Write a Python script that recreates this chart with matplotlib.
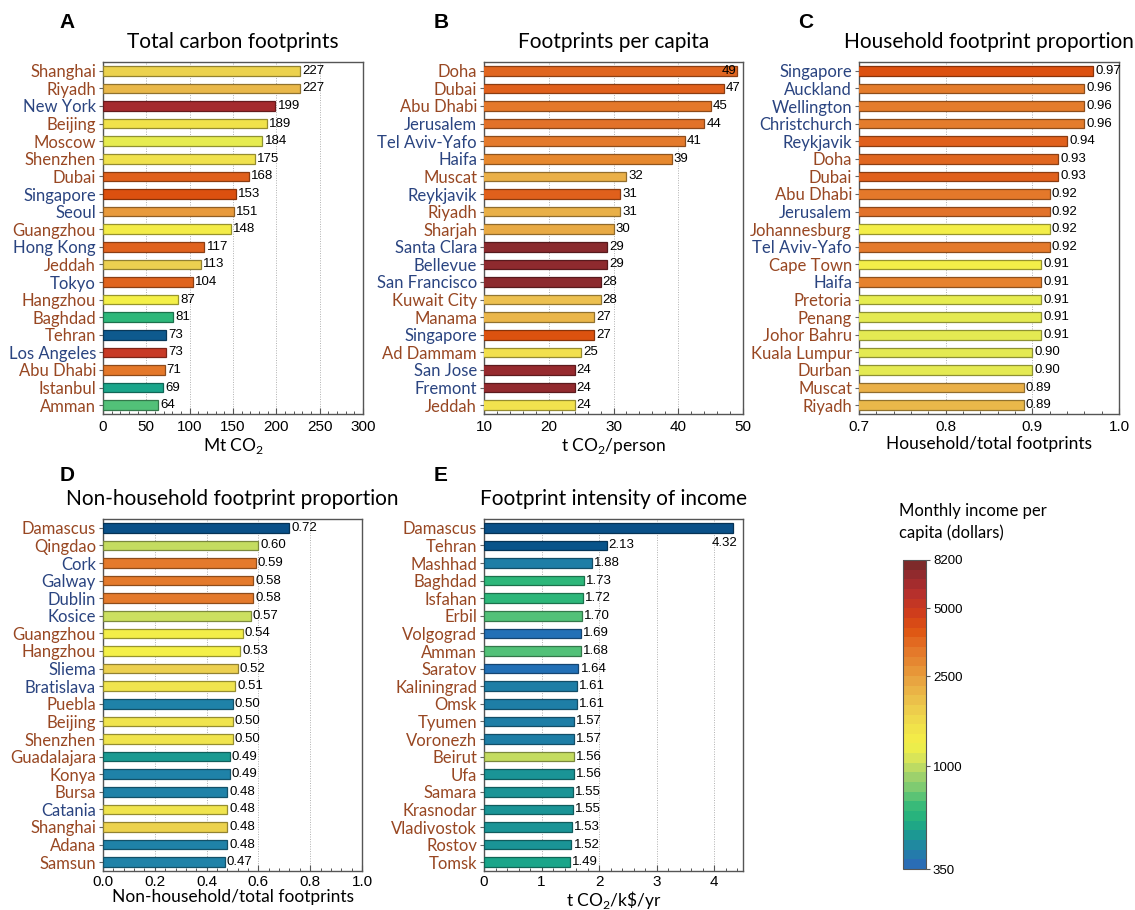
import numpy as np
import matplotlib
matplotlib.use("Agg")
import matplotlib.pyplot as plt
from matplotlib.colors import LinearSegmentedColormap, LogNorm, to_rgb
from matplotlib.ticker import MultipleLocator
import matplotlib.cm as cm

plt.rcParams['mathtext.fontset'] = 'custom'
plt.rcParams['mathtext.rm'] = 'Lato'

# ---------------- data ----------------
a_cities = ["Shanghai", "Riyadh", "New York", "Beijing", "Moscow", "Shenzhen", "Dubai",
            "Singapore", "Seoul", "Guangzhou", "Hong Kong", "Jeddah", "Tokyo", "Hangzhou",
            "Baghdad", "Tehran", "Los Angeles", "Abu Dhabi", "Istanbul", "Amman"]
a_values = [227, 227, 199, 189, 184, 175, 168, 153, 151, 148, 117, 113, 104, 87, 81, 73, 73, 71, 69, 64]
a_colors = ["#ecd24e", "#e9b84a", "#a52b2e", "#f0e24a", "#e6ec50", "#f0e24e", "#e0601c",
            "#dc500f", "#e89a3c", "#f3ec48", "#e0621e", "#ecd050", "#e0641e", "#f4f048",
            "#2db77a", "#0e5a8e", "#c83a26", "#e4782a", "#1aa58a", "#52c178"]

b_cities = ["Doha", "Dubai", "Abu Dhabi", "Jerusalem", "Tel Aviv-Yafo", "Haifa", "Muscat",
            "Reykjavik", "Riyadh", "Sharjah", "Santa Clara", "Bellevue", "San Francisco",
            "Kuwait City", "Manama", "Singapore", "Ad Dammam", "San Jose", "Fremont", "Jeddah"]
b_values = [49, 47, 45, 44, 41, 39, 32, 31, 31, 30, 29, 29, 28, 28, 27, 27, 25, 24, 24, 24]
b_colors = ["#e06620", "#e0601c", "#e4782a", "#e2722a", "#e47a2c", "#e6882e", "#eab048",
            "#e0601c", "#e9b048", "#e8aa44", "#8a2a2e", "#8e2a2e", "#8c2a2e", "#ecc050",
            "#eab64a", "#dc520f", "#f2e04e", "#962a2e", "#922a2e", "#f2e24e"]

c_cities = ["Singapore", "Auckland", "Wellington", "Christchurch", "Reykjavik", "Doha", "Dubai",
            "Abu Dhabi", "Jerusalem", "Johannesburg", "Tel Aviv-Yafo", "Cape Town", "Haifa",
            "Pretoria", "Penang", "Johor Bahru", "Kuala Lumpur", "Durban", "Muscat", "Riyadh"]
c_values = [0.97, 0.96, 0.96, 0.96, 0.94, 0.93, 0.93, 0.92, 0.92, 0.92, 0.92, 0.91, 0.91,
            0.91, 0.91, 0.91, 0.90, 0.90, 0.89, 0.89]
c_colors = ["#dc500f", "#e47c2c", "#e47c2c", "#e47c2c", "#e0601c", "#e06620", "#e0601c",
            "#e4782a", "#e2722a", "#f3ee48", "#e47a2c", "#f3ee48", "#e6822e", "#e6ec50",
            "#e4ea52", "#e4ea52", "#e4ea52", "#e4ea52", "#eab048", "#e9b84a"]

d_cities = ["Damascus", "Qingdao", "Cork", "Galway", "Dublin", "Kosice", "Guangzhou", "Hangzhou",
            "Sliema", "Bratislava", "Puebla", "Beijing", "Shenzhen", "Guadalajara", "Konya",
            "Bursa", "Catania", "Shanghai", "Adana", "Samsun"]
d_values = [0.72, 0.60, 0.59, 0.58, 0.58, 0.57, 0.54, 0.53, 0.52, 0.51, 0.50, 0.50, 0.50,
            0.49, 0.49, 0.48, 0.48, 0.48, 0.48, 0.47]
d_colors = ["#0a5088", "#c4dc60", "#e47a2c", "#e47a2c", "#e47a2c", "#cce060", "#f3ee48",
            "#f4f048", "#ecd050", "#f0e44e", "#1f82a8", "#f0e44e", "#f0e44e", "#1a9a92",
            "#1f82a8", "#1f82a8", "#f0e44e", "#ecd24e", "#1f82a8", "#1f82a8"]

e_cities = ["Damascus", "Tehran", "Mashhad", "Baghdad", "Isfahan", "Erbil", "Volgograd", "Amman",
            "Saratov", "Kaliningrad", "Omsk", "Tyumen", "Voronezh", "Beirut", "Ufa", "Samara",
            "Krasnodar", "Vladivostok", "Rostov", "Tomsk"]
e_values = [4.32, 2.13, 1.88, 1.73, 1.72, 1.70, 1.69, 1.68, 1.64, 1.61, 1.61, 1.57, 1.57,
            1.56, 1.56, 1.55, 1.55, 1.53, 1.52, 1.49]
e_colors = ["#0a5088", "#08548a", "#1e7ea6", "#2db77a", "#2db77a", "#52c178", "#2270b6",
            "#52c178", "#2270b6", "#1e7ea6", "#1e7ea6", "#1e7ea6", "#1e7ea6", "#c4dc60",
            "#1a9496", "#1a9496", "#1a9496", "#1a9496", "#1a9496", "#1aa58a"]

developed = {"Singapore", "New York", "Seoul", "Hong Kong", "Tokyo", "Los Angeles",
             "Jerusalem", "Tel Aviv-Yafo", "Haifa", "Reykjavik", "Santa Clara", "Bellevue",
             "San Francisco", "San Jose", "Fremont", "Auckland", "Wellington", "Christchurch",
             "Cork", "Galway", "Dublin", "Kosice", "Sliema", "Bratislava", "Catania"}

cbar_ticks = [350, 1000, 2500, 5000, 8200]
cbar_anchor_colors = ["#2a6db5", "#2182a6", "#1c9a92", "#22b07e", "#3cbc78", "#78c972",
                      "#a6d36a", "#d6e45a", "#f4f046", "#f0de4c", "#ecc84c", "#e9ab44",
                      "#e68f34", "#e37428", "#df5512", "#cf3c1c", "#b8302c", "#9c2a2e", "#7e2a2a"]
cbar_anchor_pos = [0.0, 0.05, 0.10, 0.15, 0.20, 0.25, 0.30, 0.35, 0.40, 0.47, 0.53, 0.60,
                   0.66, 0.72, 0.78, 0.84, 0.90, 0.95, 1.0]

# ---------------- style ----------------
W, H = 1135, 910
LABEL_FONT = "Lato"
NUM_FONT = "Liberation Sans"
BROWN = "#984722"
BLUE = "#2a4480"

fig = plt.figure(figsize=(W / 100, H / 100), dpi=100)


def rect(l, t, r, b):
    return [l / W, 1 - b / H, (r - l) / W, (b - t) / H]


def darker(c, f=0.62):
    r, g, b = to_rgb(c)
    return (r * f, g * f, b * f)


def panel(box, cities, values, colors, xlim, major, title, xlabel, letter, letter_x,
          title_y, letter_y, fmt, special=None, labelpad=2, tickpad=4):
    ax = fig.add_axes(rect(*box))
    y = np.arange(len(cities))
    ax.barh(y, values, height=0.55, color=colors,
            edgecolor=[darker(c) for c in colors], linewidth=0.9, zorder=3)
    ax.set_ylim(len(cities) - 0.5, -0.5)
    ax.set_xlim(*xlim)
    ax.xaxis.set_major_locator(MultipleLocator(major))
    ax.xaxis.set_minor_locator(MultipleLocator(major / 5))
    ax.grid(axis='x', which='major', linestyle=(0, (1, 1.5)), color='#b0b0b0', linewidth=0.7, zorder=0)
    ax.set_axisbelow(True)
    ax.set_yticks(y)
    ax.set_yticklabels(cities, fontfamily=LABEL_FONT, fontsize=12)
    for lab in ax.get_yticklabels():
        lab.set_color(BLUE if lab.get_text() in developed else BROWN)
    ax.tick_params(axis='y', direction='out', length=3, width=0.8, color='#666666', pad=2)
    ax.tick_params(axis='x', which='major', direction='in', length=4, width=0.8, color='#555555',
                   labelsize=11, pad=tickpad)
    ax.tick_params(axis='x', which='minor', direction='in', length=2, width=0.7, color='#555555')
    for lab in ax.get_xticklabels():
        lab.set_fontfamily(NUM_FONT)
    for s in ax.spines.values():
        s.set_color('#555555')
        s.set_linewidth(1.0)
    ax.set_xlabel(xlabel, fontfamily=LABEL_FONT, fontsize=12.5, labelpad=labelpad)
    span = xlim[1] - xlim[0]
    for i, v in enumerate(values):
        if special is not None and i in special:
            dx, dy, ha = special[i]
            ax.text(v + dx * span, i + dy, fmt.format(v), ha=ha, va='center',
                    fontfamily=NUM_FONT, fontsize=9.5, zorder=5, clip_on=False)
        else:
            ax.text(v + 0.008 * span, i, fmt.format(v), ha='left', va='center',
                    fontfamily=NUM_FONT, fontsize=9.5, zorder=5, clip_on=False)
    cx = (box[0] + box[2]) / 2
    fig.text(cx / W, 1 - title_y / H, title, ha='center', va='center',
             fontfamily=LABEL_FONT, fontsize=15)
    fig.text(letter_x / W, 1 - letter_y / H, letter, ha='center', va='center',
             fontfamily=NUM_FONT, fontweight='bold', fontsize=15)
    return ax


panel((103, 62, 363, 414), a_cities, a_values, a_colors, (0, 300), 50,
      "Total carbon footprints", "Mt CO$_\\mathregular{2}$", "A", 67, 42, 22, "{:.0f}")
panel((484, 62, 743, 414), b_cities, b_values, b_colors, (10, 50), 10,
      "Footprints per capita", "t CO$_\\mathregular{2}$/person", "B", 441, 42, 22, "{:.0f}",
      special={0: (0.0, 0.0, 'right')})
panel((859, 62, 1119, 414), c_cities, c_values, c_colors, (0.7, 1.0), 0.1,
      "Household footprint proportion", "Household/total footprints", "C", 806, 42, 22, "{:.2f}")
panel((103, 519, 362, 871), d_cities, d_values, d_colors, (0, 1.0), 0.2,
      "Non-household footprint proportion", "Non-household/total footprints", "D", 67, 499, 475,
      "{:.2f}", labelpad=0, tickpad=3)
panel((484, 519, 743, 871), e_cities, e_values, e_colors, (0, 4.5), 1,
      "Footprint intensity of income", "t CO$_\\mathregular{2}$/k\\$/yr", "E", 441, 499, 475,
      "{:.2f}", special={0: (0.018, 0.85, 'right')}, labelpad=0, tickpad=3)

# ---------------- colorbar ----------------
cmap = LinearSegmentedColormap.from_list("income", list(zip(cbar_anchor_pos, cbar_anchor_colors)), N=32)
norm = LogNorm(vmin=cbar_ticks[0], vmax=cbar_ticks[-1])
cax = fig.add_axes(rect(903, 560, 926, 869))
sm = cm.ScalarMappable(norm=norm, cmap=cmap)
cb = fig.colorbar(sm, cax=cax)
cb.set_ticks(cbar_ticks)
cb.set_ticklabels([str(t) for t in cbar_ticks])
cb.ax.minorticks_off()
cb.ax.tick_params(direction='out', length=3, width=0.8, color='#555555', labelsize=9.5, pad=2)
for lab in cb.ax.get_yticklabels():
    lab.set_fontfamily(NUM_FONT)
cb.outline.set_edgecolor('#555555')
cb.outline.set_linewidth(0.8)
fig.text(899 / W, 1 - 522 / H, "Monthly income per\ncapita (dollars)", ha='left', va='center',
         fontfamily=LABEL_FONT, fontsize=12, linespacing=1.35)

fig.savefig("out.png", dpi=100)
